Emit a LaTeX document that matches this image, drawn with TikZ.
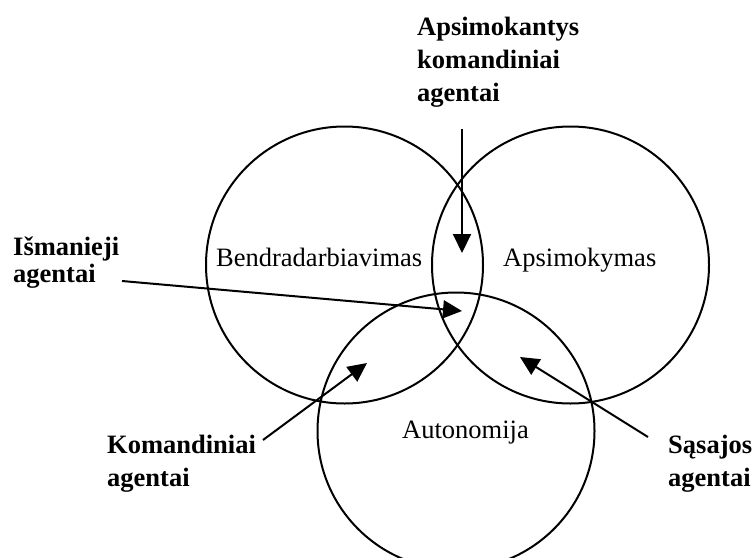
\documentclass[tikz,border=0pt]{standalone}
\usepackage{fontspec}
\setmainfont{Liberation Serif}
\usetikzlibrary{arrows.meta}
\begin{document}
\begin{tikzpicture}[x=1pt,y=-1pt,
  set/.style={draw, line width=2pt, circle, minimum size=277pt, inner sep=0pt},
  region/.style={anchor=base west, inner sep=0pt, font=\fontsize{26.5}{32}\selectfont},
  agent/.style={anchor=base west, inner sep=0pt, align=left, font=\fontsize{26.5}{33}\selectfont\bfseries},
  pointer/.style={line width=2pt, -{Triangle[length=19pt,width=18pt]}}]
\useasboundingbox (0,0) rectangle (755,557);

% the three overlapping sets
\node[set] (collab) at (344.5,265) {};
\node[set] (learn)  at (570.5,265) {};
\node[set] (auto)   at (456,431) {};

% set names
\node[region] (tcollab) at (216,266) {Bendradarbiavimas};
\node[region] (tlearn)  at (503,266) {Apsimokymas};
\node[region] (tauto)   at (402,438) {Autonomija};

% agent kinds (placed by the baseline of their last line)
\node[agent] (lteam) at (417,101) {Apsimokantys\\komandiniai\\agentai};
\node[agent, font=\fontsize{26.5}{27}\selectfont\bfseries] (lsmart) at (13,282) {Išmanieji\\agentai};
\node[agent] (lcoop)  at (107,486) {Komandiniai\\agentai};
\node[agent] (liface) at (668,486) {Sąsajos\\agentai};

% pointer ends
\coordinate (pteamS)  at (462,129);
\coordinate (pteamE)  at (462,253);
\coordinate (psmartS) at (122,281);
\coordinate (psmartE) at (462,311);
\coordinate (pcoopS)  at (263,440);
\coordinate (pcoopE)  at (367,363);
\coordinate (pifaceS) at (648,437);
\coordinate (pifaceE) at (520,357);

\draw[pointer] (pteamS)  -- (pteamE);
\draw[pointer] (psmartS) -- (psmartE);
\draw[pointer] (pcoopS)  -- (pcoopE);
\draw[pointer] (pifaceS) -- (pifaceE);
\end{tikzpicture}
\end{document}
